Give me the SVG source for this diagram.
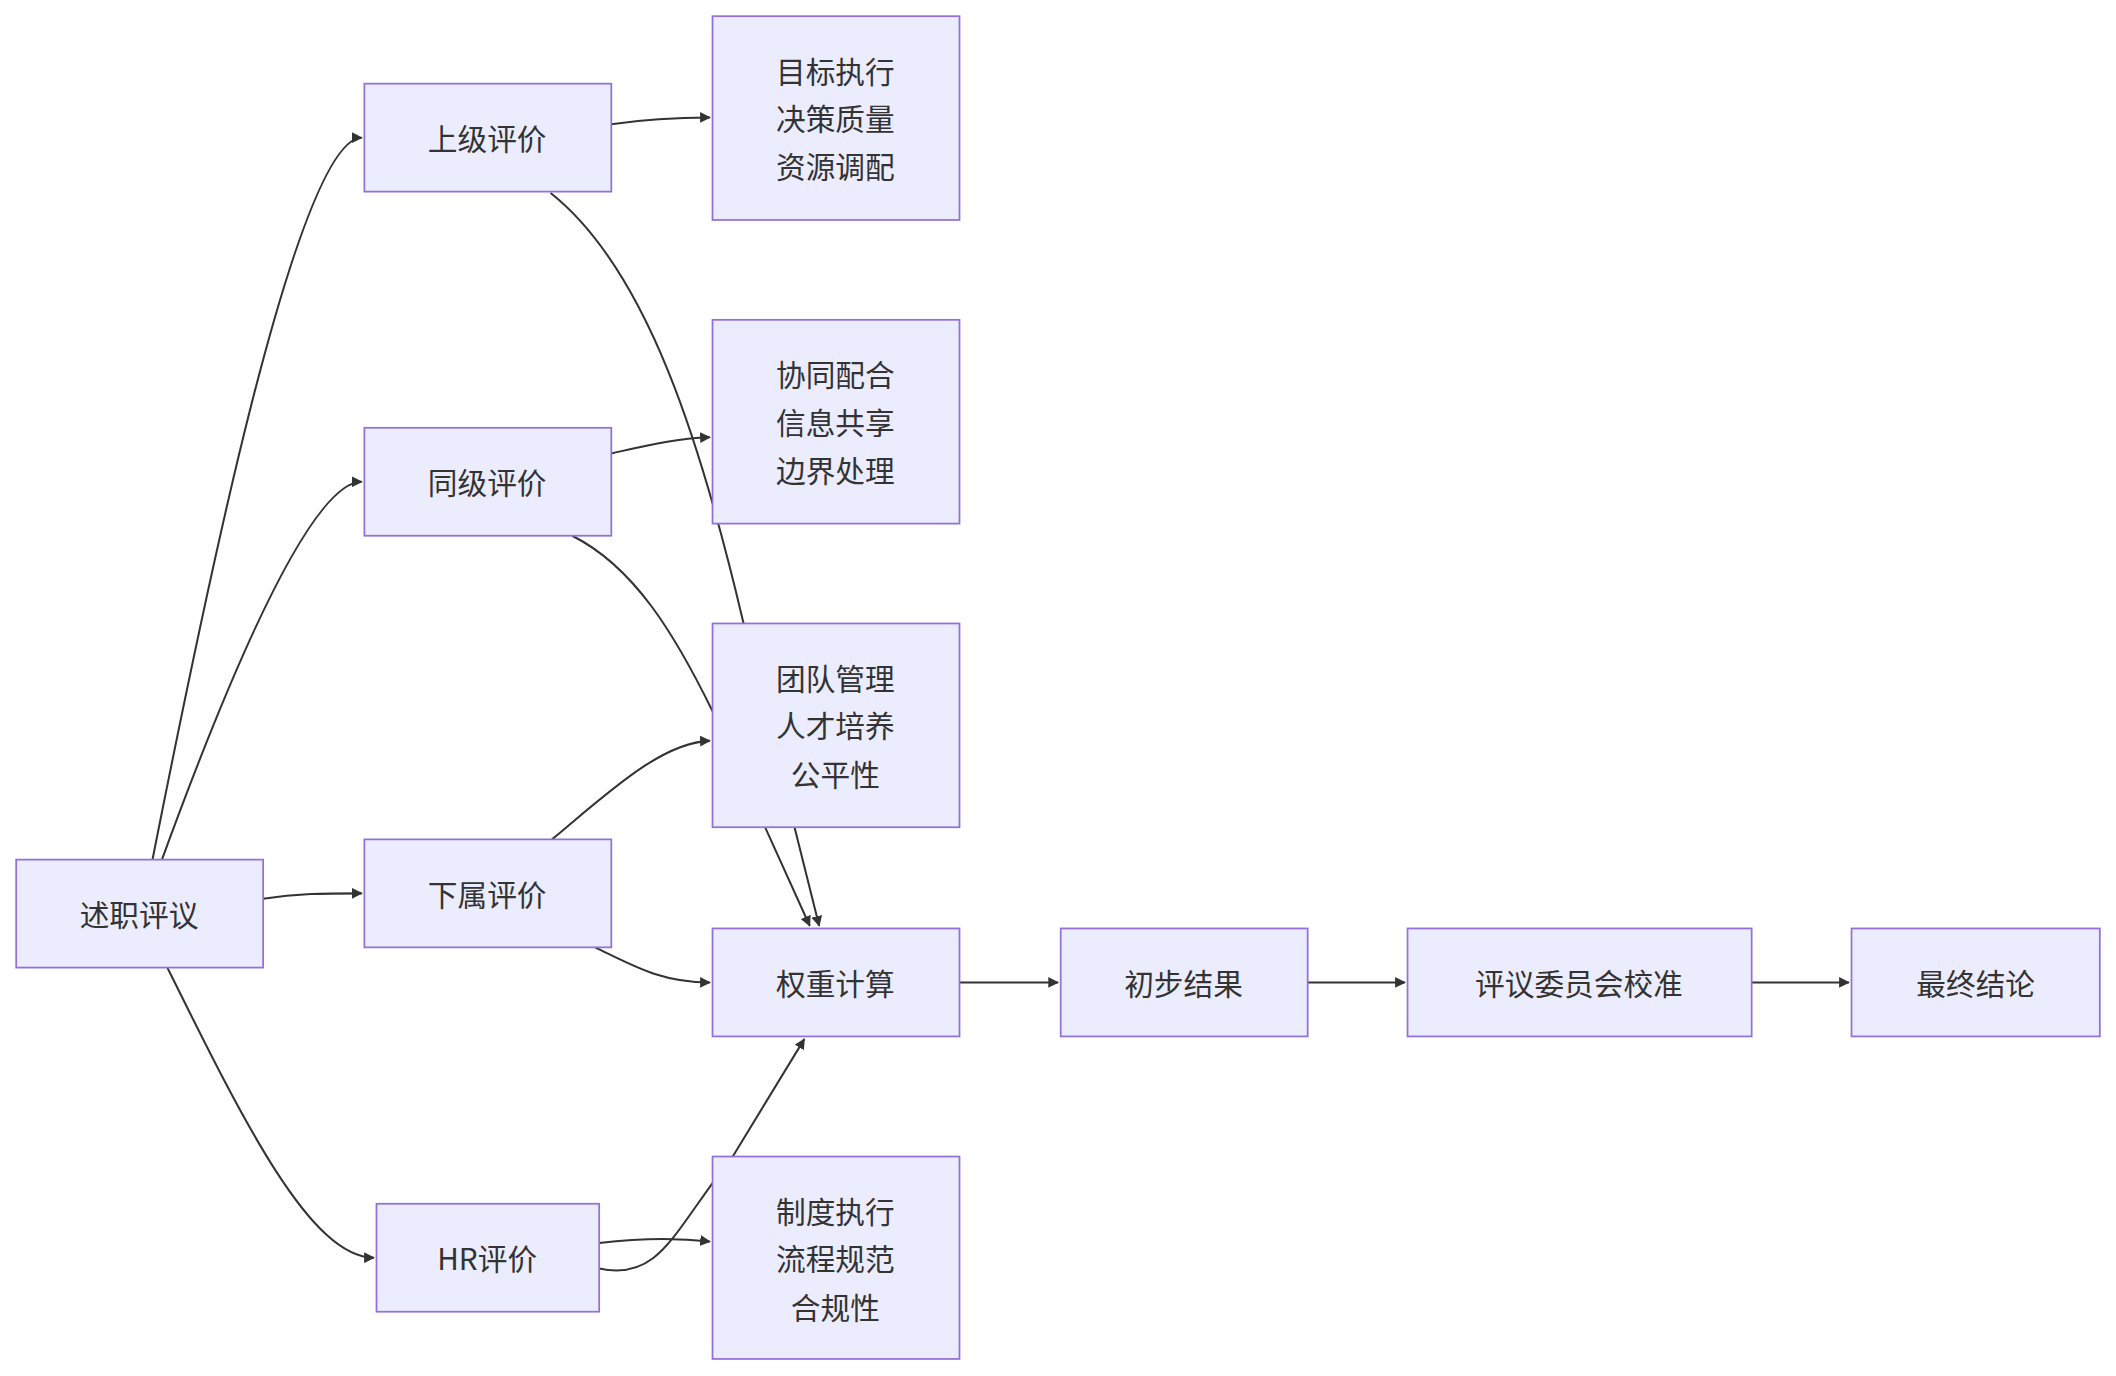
<svg xmlns="http://www.w3.org/2000/svg" width="2116" height="1376" viewBox="0 0 2116 1376">
<defs>
<style>
.n rect{fill:#ECECFF;stroke:#9370DB;stroke-width:1.3}
.n text{font-family:"Noto Sans CJK SC","Liberation Sans",sans-serif;font-size:22px;fill:#333;text-anchor:middle;dominant-baseline:central}
.e path{fill:none;stroke:#333;stroke-width:1.5;marker-end:url(#ah)}
</style>
<marker id="ah" viewBox="0 0 10 10" refX="9" refY="5" markerWidth="8" markerHeight="8" markerUnits="userSpaceOnUse" orient="auto"><path d="M0,0L10,5L0,10z" fill="#333"/></marker>
</defs>
<rect width="2116" height="1376" fill="#fff"/>
<g transform="scale(1.3495)">
<g id="connectors" class="e">
<path d="M113,637 C150,450 220,102 268,102"/>
<path d="M120,637 C170,500 230,357 268,357"/>
<path d="M195,666 C220,662 240,662 268,662"/>
<path d="M124,717 C180,830 230,932 277,932"/>
<path d="M453,92 C480,88 500,87 526,87"/>
<path d="M453,336 C480,330 500,325 526,324"/>
<path d="M409,622 C450,588 490,550 526,549"/>
<path d="M408,143 C480,200 520,330 551,462 L607,686"/>
<path d="M424,397 C470,420 500,470 528,527 L600,686"/>
<path d="M441,702 C470,716 490,728 526,728"/>
<path d="M444,921 C470,918 500,917 526,920"/>
<path d="M444,940 C490,950 500,910 543,857 L596,770"/>
<path d="M711,728 L784,728"/>
<path d="M969,728 L1041,728"/>
<path d="M1298,728 L1370,728"/>
</g>
<g id="n0" class="n"><rect x="12" y="637" width="183" height="80"/><text x="103" y="677">述职评议</text></g>
<g id="n1" class="n"><rect x="270" y="62" width="183" height="80"/><text x="361" y="102">上级评价</text></g>
<g id="n2" class="n"><rect x="270" y="317" width="183" height="80"/><text x="361" y="357">同级评价</text></g>
<g id="n3" class="n"><rect x="270" y="622" width="183" height="80"/><text x="361" y="662">下属评价</text></g>
<g id="n4" class="n"><rect x="279" y="892" width="165" height="80"/><text x="361" y="932">HR评价</text></g>
<g id="n5" class="n"><rect x="528" y="12" width="183" height="151"/><text x="619" y="52">目标执行</text><text x="619" y="87">决策质量</text><text x="619" y="123">资源调配</text></g>
<g id="n6" class="n"><rect x="528" y="237" width="183" height="151"/><text x="619" y="277">协同配合</text><text x="619" y="312">信息共享</text><text x="619" y="348">边界处理</text></g>
<g id="n7" class="n"><rect x="528" y="462" width="183" height="151"/><text x="619" y="502">团队管理</text><text x="619" y="537">人才培养</text><text x="619" y="573">公平性</text></g>
<g id="n8" class="n"><rect x="528" y="857" width="183" height="150"/><text x="619" y="897">制度执行</text><text x="619" y="932">流程规范</text><text x="619" y="968">合规性</text></g>
<g id="n9" class="n"><rect x="528" y="688" width="183" height="80"/><text x="619" y="728">权重计算</text></g>
<g id="n10" class="n"><rect x="786" y="688" width="183" height="80"/><text x="877" y="728">初步结果</text></g>
<g id="n11" class="n"><rect x="1043" y="688" width="255" height="80"/><text x="1170" y="728">评议委员会校准</text></g>
<g id="n12" class="n"><rect x="1372" y="688" width="184" height="80"/><text x="1464" y="728">最终结论</text></g>
</g>
</svg>
